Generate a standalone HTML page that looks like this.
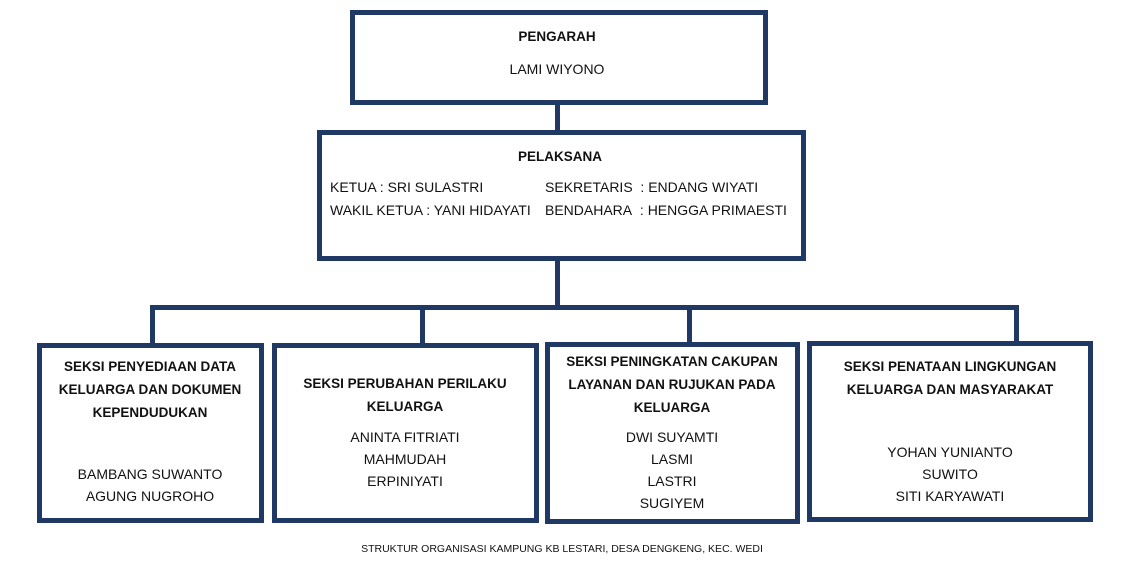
<!DOCTYPE html>
<html><head><style>
body{margin:0;width:1129px;height:562px;background:#fff;position:relative;overflow:hidden;font-family:"Liberation Sans",sans-serif;color:#111}
.b{position:absolute;border:5px solid #203864;box-sizing:border-box;background:#fff}
.l{position:absolute;background:#203864}
.t{position:absolute;font-size:14px;white-space:nowrap;transform:translateX(-50%);text-align:center;line-height:22px}
.bo{font-weight:bold;font-size:13.5px}
.a{position:absolute;font-size:14px;white-space:nowrap}
</style></head><body>
<div class="l" style="left:555px;top:100px;width:5px;height:34px"></div>
<div class="l" style="left:555px;top:256px;width:5px;height:52px"></div>
<div class="l" style="left:150px;top:305px;width:869px;height:5px"></div>
<div class="l" style="left:150px;top:305px;width:5px;height:40px"></div>
<div class="l" style="left:420px;top:305px;width:5px;height:40px"></div>
<div class="l" style="left:687px;top:305px;width:5px;height:40px"></div>
<div class="l" style="left:1014px;top:305px;width:5px;height:40px"></div>

<div class="b" style="left:350px;top:10px;width:418px;height:95px"></div>
<div class="t bo" style="left:557px;top:26px">PENGARAH</div>
<div class="t" style="left:557px;top:58px">LAMI WIYONO</div>

<div class="b" style="left:317px;top:130px;width:489px;height:131px"></div>
<div class="t bo" style="left:560px;top:146px">PELAKSANA</div>
<div class="a" style="left:330px;top:179px">KETUA : SRI SULASTRI</div>
<div class="a" style="left:330px;top:202px">WAKIL KETUA : YANI HIDAYATI</div>
<div class="a" style="left:545px;top:179px">SEKRETARIS&nbsp; : ENDANG WIYATI</div>
<div class="a" style="left:545px;top:202px">BENDAHARA&nbsp; : HENGGA PRIMAESTI</div>

<div class="b" style="left:37px;top:343px;width:227px;height:180px"></div>
<div class="t" style="left:150px;top:355px"><b style="font-size:13.5px">SEKSI PENYEDIAAN DATA<br>KELUARGA DAN DOKUMEN<br>KEPENDUDUKAN</b></div>
<div class="t" style="left:150px;top:463px">BAMBANG SUWANTO<br>AGUNG NUGROHO</div>

<div class="b" style="left:272px;top:343px;width:267px;height:180px"></div>
<div class="t" style="left:405px;top:372px"><b style="font-size:13.5px">SEKSI PERUBAHAN PERILAKU<br>KELUARGA</b></div>
<div class="t" style="left:405px;top:426px">ANINTA FITRIATI<br>MAHMUDAH<br>ERPINIYATI</div>

<div class="b" style="left:545px;top:342px;width:255px;height:182px"></div>
<div class="t" style="left:672px;top:350px"><b style="font-size:13.5px">SEKSI PENINGKATAN CAKUPAN<br>LAYANAN DAN RUJUKAN PADA<br>KELUARGA</b></div>
<div class="t" style="left:672px;top:426px">DWI SUYAMTI<br>LASMI<br>LASTRI<br>SUGIYEM</div>

<div class="b" style="left:807px;top:341px;width:286px;height:181px"></div>
<div class="t" style="left:950px;top:355px"><b style="font-size:13.5px">SEKSI PENATAAN LINGKUNGAN<br>KELUARGA DAN MASYARAKAT</b></div>
<div class="t" style="left:950px;top:441px">YOHAN YUNIANTO<br>SUWITO<br>SITI KARYAWATI</div>

<div class="t" style="left:562px;top:538px;font-size:10.5px">STRUKTUR ORGANISASI KAMPUNG KB LESTARI, DESA DENGKENG, KEC. WEDI</div>
</body></html>
